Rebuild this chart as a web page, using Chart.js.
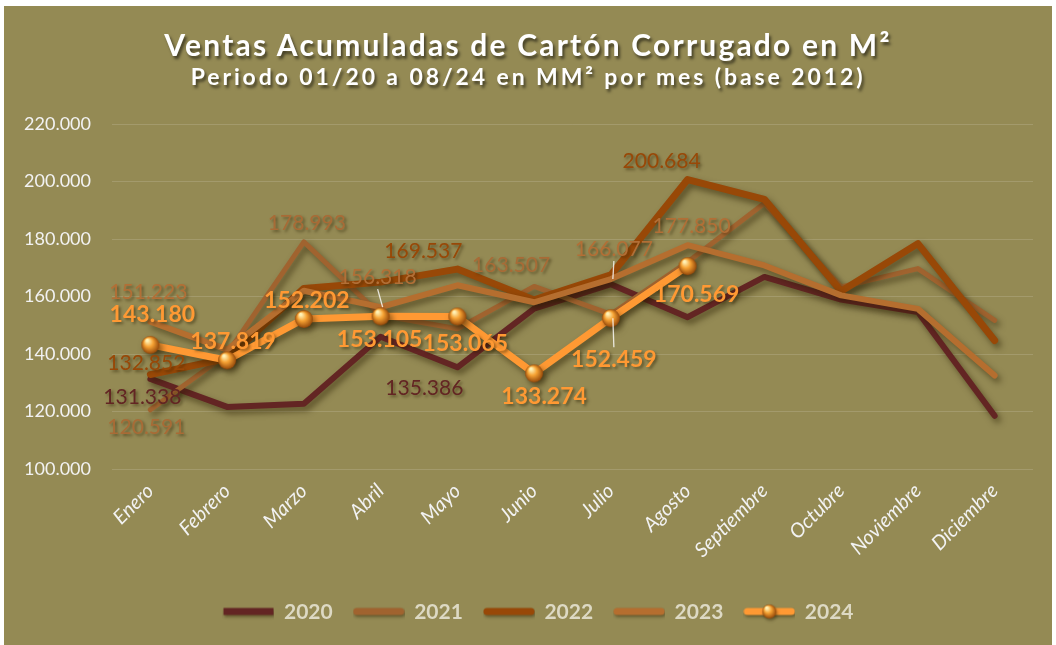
<!DOCTYPE html>
<html lang="es">
<head>
<meta charset="utf-8">
<title>Ventas Acumuladas de Cartón Corrugado</title>
<script src="https://cdn.jsdelivr.net/npm/chart.js@4.4.1/dist/chart.umd.min.js"></script>
<style>
  html, body { margin: 0; padding: 0; background: #fff; }
  #marco { position: absolute; left: 4px; top: 6px; width: 1048px; height: 639px; background: #948A54; }
  #grafico { position: absolute; left: 0; top: 0; }
  .titulo { position: absolute; left: 0; width: 100%; text-align: center; color: #fff;
            font-family: Lato, sans-serif; font-weight: bold; white-space: nowrap;
            text-shadow: 2px 3px 3px rgba(0,0,0,0.55); }
  #t1 { top: 20px; font-size: 30px; letter-spacing: 2.2px; }
  #t2 { top: 56px; font-size: 23px; letter-spacing: 2.9px; }
</style>
</head>
<body>
<div id="marco">
  <canvas id="grafico" width="1048" height="639"></canvas>
  <div class="titulo" id="t1">Ventas Acumuladas de Cartón Corrugado en M²</div>
  <div class="titulo" id="t2">Periodo 01/20 a 08/24 en MM² por mes (base 2012)</div>
</div>
<script>
// Datos (MM² por mes)
const meses = ['Enero', 'Febrero', 'Marzo', 'Abril', 'Mayo', 'Junio', 'Julio', 'Agosto',
               'Septiembre', 'Octubre', 'Noviembre', 'Diciembre'];
const anios = ['2020', '2021', '2022', '2023', '2024'];
const v2020 = [131338, 121600, 122700, 146000, 135386, 155800, 164300, 152800, 166800, 158900, 154600, 118500];
const v2021 = [120591, 140000, 178993, 153500, 148800, 163507, 153800, 172000, 192400, 163300, 169700, 151700];
const v2022 = [132852, 138500, 162800, 165000, 169537, 158800, 167500, 200684, 193800, 161800, 178400, 144700];
const v2023 = [151223, 141500, 162000, 156318, 163900, 158000, 166077, 177850, 170800, 160400, 155700, 132500];
const v2024 = [143180, 137819, 152202, 153105, 153065, 133274, 152459, 170569];
const yMin = 100000, yMax = 220000, yPaso = 20000;

// estilo
const colores = ['#632523', '#A0632F', '#984807', '#B56E2F', '#FF9933'];
const coloresEtq = ['#632523', '#A86B36', '#984807', '#B26F36', '#FF9933'];
const grosores = [6, 5, 7, 6, 7];

// etiquetas de datos: indice -> desplazamiento [dx, dy] desde el punto
const etiquetas = [
  { 0: [-8, 18], 4: [-33, 21] },
  { 0: [-4, 17], 2: [3, -19], 5: [-23, -21] },
  { 0: [-4, -11], 4: [-34, -18], 7: [-26, -18] },
  { 0: [-2, -29], 3: [-3, -30], 6: [3, -30], 7: [4, -19] },
  { 0: [2, -30], 1: [6, -19], 2: [3, -18], 3: [-1, 23], 4: [8, 27], 5: [10, 23], 6: [3, 41], 7: [9, 28] }
];
const guias = [[3, 3], [3, 6], [4, 6]];

const fmt = n => String(Math.round(n)).replace(/\B(?=(\d{3})+(?!\d))/g, '.');

function esfera(r) {
  const c = document.createElement('canvas');
  c.width = c.height = 2 * r + 2;
  const g = c.getContext('2d');
  const grd = g.createRadialGradient(r * 0.75, r * 0.6, 1, r + 1, r + 1, r);
  grd.addColorStop(0, '#FFF3B8');
  grd.addColorStop(0.45, '#F6A233');
  grd.addColorStop(1, '#94480A');
  g.fillStyle = grd;
  g.beginPath();
  g.arc(r + 1, r + 1, r, 0, Math.PI * 2);
  g.fill();
  return c;
}
const marcador = esfera(9);

// muestras de la leyenda
function muestra(i) {
  const c = document.createElement('canvas');
  c.width = 52; c.height = 22;
  const g = c.getContext('2d');
  g.shadowColor = 'rgba(40,30,0,0.45)'; g.shadowBlur = 3; g.shadowOffsetX = 1; g.shadowOffsetY = 2;
  g.strokeStyle = colores[i];
  g.lineWidth = 7;
  g.lineCap = i === 0 ? 'butt' : 'round';
  g.beginPath(); g.moveTo(i === 0 ? 1 : 4, 10); g.lineTo(i === 0 ? 51 : 48, 10); g.stroke();
  if (i === 4) g.drawImage(esfera(7), 26 - 8, 10 - 8);
  return c;
}

const pluginSombra = {
  id: 'sombra',
  beforeDatasetDraw(chart) {
    const c = chart.ctx;
    c.save();
    c.shadowColor = 'rgba(40,30,0,0.55)';
    c.shadowBlur = 6;
    c.shadowOffsetX = 3;
    c.shadowOffsetY = 4;
  },
  afterDatasetDraw(chart) { chart.ctx.restore(); }
};

// la leyenda va centrada en el bloque completo, no sólo bajo el área de trazado
const pluginLeyenda = {
  id: 'leyendaCentro',
  afterLayout(chart) { if (chart.legend) chart.legend.left += 40; }
};

const pluginEtiquetas = {
  id: 'etiquetas',
  afterDatasetsDraw(chart) {
    const ctx = chart.ctx;
    ctx.save();
    ctx.textAlign = 'center';
    ctx.textBaseline = 'middle';
    etiquetas.forEach((spec, di) => {
      const meta = chart.getDatasetMeta(di);
      Object.keys(spec).forEach(k => {
        const i = +k, p = meta.data[i];
        const x = p.x + spec[k][0], y = p.y + spec[k][1];
        if (guias.some(g => g[0] === di && g[1] === i)) {
          ctx.shadowColor = 'transparent';
          ctx.strokeStyle = 'rgba(255,255,255,0.8)';
          ctx.lineWidth = 1.3;
          ctx.beginPath();
          ctx.moveTo(p.x + 2, p.y);
          ctx.lineTo(x, y - Math.sign(spec[k][1]) * 12);
          ctx.stroke();
        }
        ctx.font = di === 4 ? 'bold 23px Lato' : '21px Lato';
        ctx.shadowColor = 'rgba(40,30,0,0.5)';
        ctx.shadowBlur = 3;
        ctx.shadowOffsetX = 2;
        ctx.shadowOffsetY = 2;
        ctx.fillStyle = coloresEtq[di];
        ctx.fillText(fmt(chart.data.datasets[di].data[i]), x, y);
      });
    });
    ctx.restore();
  }
};

const series = [v2020, v2021, v2022, v2023, v2024];

new Chart(document.getElementById('grafico'), {
  type: 'line',
  data: {
    labels: meses,
    datasets: series.map((d, i) => ({
      label: anios[i],
      data: d,
      borderColor: colores[i],
      backgroundColor: colores[i],
      borderWidth: grosores[i],
      borderJoinStyle: 'round',
      borderCapStyle: 'round',
      pointRadius: i === 4 ? 9 : 0,
      pointStyle: i === 4 ? marcador : 'circle',
      tension: 0,
      fill: false,
      order: 4 - i
    }))
  },
  options: {
    responsive: false,
    animation: false,
    events: [],
    layout: { padding: { top: 118, right: 19, left: 0, bottom: 12 } },
    scales: {
      x: {
        offset: true,
        grid: { display: false },
        border: { display: false },
        ticks: {
          color: '#F2F2F2',
          font: { family: 'Lato', size: 20, style: 'italic' },
          minRotation: 45, maxRotation: 45, autoSkip: false, padding: 2
        },
        afterFit(s) { s.height = 112; }
      },
      y: {
        min: yMin, max: yMax,
        grid: { color: 'rgba(255,255,255,0.14)', lineWidth: 1, drawTicks: false },
        border: { display: false },
        ticks: {
          stepSize: yPaso, padding: 21, color: '#F2F2F2',
          font: { family: 'Lato', size: 18 },
          callback: v => fmt(v)
        },
        afterFit(s) { s.width = 108; }
      }
    },
    plugins: {
      tooltip: { enabled: false },
      legend: {
        position: 'bottom',
        labels: {
          usePointStyle: true,
          pointStyleWidth: 50,
          padding: 21,
          color: '#DDD9C4',
          font: { family: 'Lato', size: 21, weight: 'bold' },
          generateLabels(chart) {
            return Chart.defaults.plugins.legend.labels.generateLabels(chart)
              .sort((a, b) => a.datasetIndex - b.datasetIndex)
              .map(it => Object.assign(it, { pointStyle: muestra(it.datasetIndex), fontColor: '#DDD9C4' }));
          }
        }
      }
    }
  },
  plugins: [pluginSombra, pluginLeyenda, pluginEtiquetas]
});
</script>
</body>
</html>
